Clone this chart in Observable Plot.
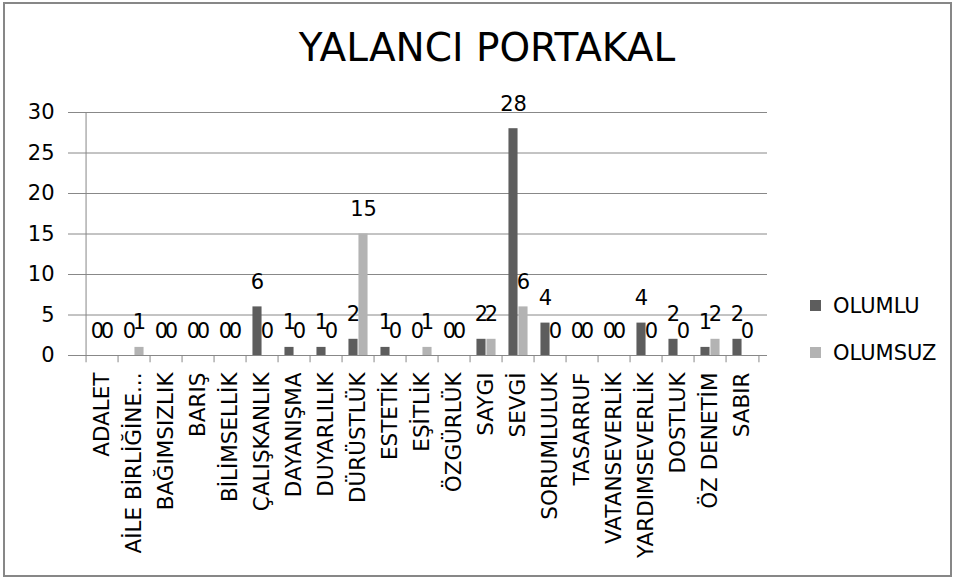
<!DOCTYPE html>
<html>
<head>
<meta charset="utf-8">
<script src="https://cdn.jsdelivr.net/npm/d3@7"></script>
<script src="https://cdn.jsdelivr.net/npm/@observablehq/plot@0.6"></script>
<style>
  html, body { margin: 0; padding: 0; background: #fff; }
  #wrap { position: relative; width: 958px; height: 581px; overflow: hidden; font-family: "DejaVu Sans", sans-serif; }
  #border { position: absolute; left: 3px; top: 2px; width: 945px; height: 571px; border: 2px solid #878787; }
  #title { position: absolute; left: 8px; width: 958px; top: 28px; text-align: center; font-size: 39px; line-height: 39px; color: #000; }
  #chart { position: absolute; left: 0; top: 0; }
  .leg { position: absolute; font-size: 21px; line-height: 21px; color: #000; white-space: nowrap; }
  .sw { position: absolute; width: 11px; height: 11px; }
</style>
</head>
<body>
<div id="wrap">
  <div id="border"></div>
  <div id="chart"></div>
  <div id="title">YALANCI PORTAKAL</div>
  <div id="legend"></div>
</div>
<script>
const categories = ["ADALET","AİLE BİRLİĞİNE...","BAĞIMSIZLIK","BARIŞ","BİLİMSELLİK","ÇALIŞKANLIK","DAYANIŞMA","DUYARLILIK","DÜRÜSTLÜK","ESTETİK","EŞİTLİK","ÖZGÜRLÜK","SAYGI","SEVGİ","SORUMLULUK","TASARRUF","VATANSEVERLİK","YARDIMSEVERLİK","DOSTLUK","ÖZ DENETİM","SABIR"];
const seriesNames = ["OLUMLU","OLUMSUZ"];
const olumlu  = [0,0,0,0,0,6,1,1,2,1,0,0,2,28,4,0,0,4,2,1,2];
const olumsuz = [0,1,0,0,0,0,0,0,15,0,1,0,2,6,0,0,0,0,0,2,0];
const yTicks = [0,5,10,15,20,25,30];
const colors = ["#5d5d5d","#b3b3b3"];

const W = 958, H = 581;
const mL = 76, mR = 191, mT = 112, mB = 226;
const bw = (W - mL - mR) / categories.length;
const barW = 10;

const rows = [];
categories.forEach((c, i) => {
  rows.push({cat: c, series: seriesNames[0], value: olumlu[i]});
  rows.push({cat: c, series: seriesNames[1], value: olumsuz[i]});
});
const r1 = rows.filter(d => d.series === seriesNames[0]);
const r2 = rows.filter(d => d.series === seriesNames[1]);
const lastCat = categories[categories.length - 1];

const chart = Plot.plot({
  width: W, height: H,
  marginLeft: mL, marginRight: mR, marginTop: mT, marginBottom: mB,
  style: {fontFamily: "DejaVu Sans, sans-serif", fontSize: "21px", color: "#000", background: "transparent", overflow: "visible"},
  x: {domain: categories, padding: 0},
  y: {domain: [0, 30]},
  color: {domain: seriesNames, range: colors},
  marks: [
    Plot.gridY(yTicks, {stroke: "#888", strokeOpacity: 1}),
    Plot.axisY({ticks: yTicks, tickSize: 8, tickPadding: 14, stroke: "#888", fill: "#000", fontSize: 21, label: null}),
    Plot.ruleX([categories[0]], {x: d => d, y1: 0, y2: 30, dx: -bw / 2, stroke: "#888"}),
    Plot.ruleX(categories, {x: d => d, y1: 0, y2: -0.9, dx: -bw / 2, stroke: "#888"}),
    Plot.ruleX([lastCat], {x: d => d, y1: 0, y2: -0.9, dx: bw / 2, stroke: "#888"}),
    Plot.axisX({tickSize: 0, tickRotate: -90, tickPadding: 17, fontSize: 21.5, fill: "#000", label: null}),
    Plot.barY(r1, {x: "cat", y: "value", fill: "series", insetLeft: bw / 2 - barW, insetRight: bw / 2}),
    Plot.barY(r2, {x: "cat", y: "value", fill: "series", insetLeft: bw / 2, insetRight: bw / 2 - barW}),
    Plot.text(r1, {x: "cat", y: "value", text: d => String(d.value), dx: -barW / 2, dy: -18, lineAnchor: "bottom", fill: "#000", fontSize: 21}),
    Plot.text(r2, {x: "cat", y: "value", text: d => String(d.value), dx: barW / 2, dy: -18, lineAnchor: "bottom", fill: "#000", fontSize: 21})
  ]
});
document.getElementById("chart").appendChild(chart);

const legend = document.getElementById("legend");
seriesNames.forEach((name, i) => {
  const top = 300 + i * 47;
  const sw = document.createElement("div");
  sw.className = "sw";
  sw.style.left = "810px";
  sw.style.top = top + "px";
  sw.style.background = colors[i];
  legend.appendChild(sw);
  const t = document.createElement("div");
  t.className = "leg";
  t.style.left = "833px";
  t.style.top = (top - 4) + "px";
  t.textContent = name;
  legend.appendChild(t);
});
</script>
</body>
</html>
